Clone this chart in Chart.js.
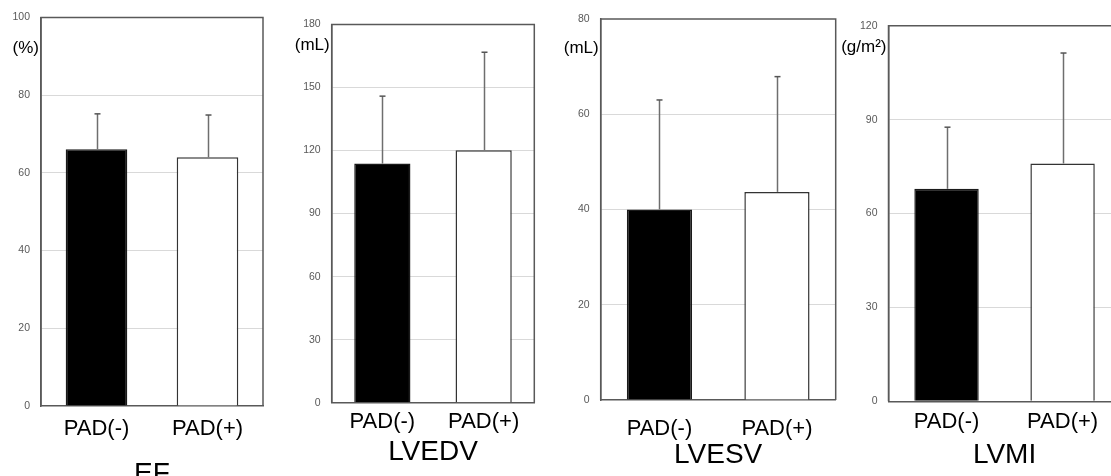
<!DOCTYPE html>
<html>
<head>
<meta charset="utf-8">
<script src="https://cdn.jsdelivr.net/npm/chart.js@4/dist/chart.umd.min.js"></script>
<style>
  html, body { margin: 0; padding: 0; background: #fff; width: 1111px; height: 476px; overflow: hidden; position: relative; }
  .panel { position: absolute; top: 0; }
</style>
</head>
<body>
<div class="panel" id="p0"><canvas id="c0"></canvas></div>
<div class="panel" id="p1"><canvas id="c1"></canvas></div>
<div class="panel" id="p2"><canvas id="c2"></canvas></div>
<div class="panel" id="p3"><canvas id="c3"></canvas></div>
<script>
// ---------- data ----------
const categories = ['PAD(-)', 'PAD(+)'];
const panelTitles = ['EF', 'LVEDV', 'LVESV', 'LVMI'];
const unitLabels = ['(%)', '(mL)', '(mL)', '(g/m²)'];
const efMean = [66.1, 64.0];
const efSD = [9.1, 10.9];
const lvedvMean = [113.8, 120.2];
const lvedvSD = [32.1, 46.6];
const lvesvMean = [40.0, 43.7];
const lvesvSD = [23.0, 24.2];
const lvmiMean = [67.9, 76.0];
const lvmiSD = [19.7, 35.3];
const axisMax = [100, 180, 80, 120];
const axisStep = [20, 30, 20, 30];

const means = [efMean, lvedvMean, lvesvMean, lvmiMean];
const sds = [efSD, lvedvSD, lvesvSD, lvmiSD];

// ---------- layout (pixels) ----------
const canvasLeft = [0, 272, 550, 838];
const canvasWidth = [272, 283, 290, 300];
const plotLeft = [41, 331.7, 600.7, 888.5];
const plotRight = [263, 534.3, 835.7, 1120.6];
const plotTop = [17.5, 24.5, 19, 25.8];
const plotBottom = [406, 402.7, 400, 401.3];
const xTickPad = [9.8, 6.1, 15.8, 7.5];
const xAxisHeight = [85.3, 66.1, 71.8, 70.5];
const unitY = [48, 45, 48, 47];
const CANVAS_H = 500;

const FONT = "'Liberation Sans', Arial, sans-serif";

const errorBarPlugin = {
  id: 'errorBars',
  afterDatasetsDraw(chart) {
    const ctx = chart.ctx;
    const yScale = chart.scales.y;
    chart.data.datasets.forEach((ds, di) => {
      const meta = chart.getDatasetMeta(di);
      meta.data.forEach((bar, i) => {
        const topVal = ds.data[i] + ds.sd[i];
        const yTop = yScale.getPixelForValue(topVal);
        const x = Math.round(bar.x) + 0.5;
        ctx.save();
        ctx.strokeStyle = '#6e6e6e';
        ctx.lineWidth = 1.5;
        ctx.beginPath();
        ctx.moveTo(x, bar.y);
        ctx.lineTo(x, yTop);
        ctx.stroke();
        ctx.strokeStyle = '#555';
        ctx.beginPath();
        ctx.moveTo(x - 3, yTop);
        ctx.lineTo(x + 3, yTop);
        ctx.stroke();
        ctx.restore();
      });
    });
  }
};

const framePlugin = {
  id: 'frame',
  afterDraw(chart, args, opts) {
    const {left, right, top, bottom} = chart.chartArea;
    const ctx = chart.ctx;
    ctx.save();
    ctx.strokeStyle = '#595959';
    ctx.lineWidth = 1.5;
    ctx.beginPath();
    ctx.moveTo(left, bottom);
    ctx.lineTo(left, top);
    ctx.lineTo(right, top);
    ctx.lineTo(right, bottom);
    ctx.stroke();
    // unit label
    ctx.fillStyle = '#000';
    ctx.font = '17px ' + FONT;
    ctx.textAlign = 'right';
    ctx.textBaseline = 'middle';
    ctx.fillText(opts.unit, left - 2, opts.unitY);
    ctx.restore();
  }
};

for (let k = 0; k < 4; k++) {
  const div = document.getElementById('p' + k);
  div.style.left = canvasLeft[k] + 'px';
  div.style.width = canvasWidth[k] + 'px';
  div.style.height = CANVAS_H + 'px';
  const cv = document.getElementById('c' + k);
  cv.width = canvasWidth[k];
  cv.height = CANVAS_H;
  cv.style.width = canvasWidth[k] + 'px';
  cv.style.height = CANVAS_H + 'px';

  const yW = plotLeft[k] - canvasLeft[k];
  const xH = xAxisHeight[k];

  new Chart(cv, {
    type: 'bar',
    data: {
      labels: categories,
      datasets: [{
        data: means[k],
        sd: sds[k],
        backgroundColor: ['#000000', '#ffffff'],
        borderColor: ['#1a1a1a', '#333333'],
        borderWidth: 1.5,
        barPercentage: 0.555,
        categoryPercentage: 1.0
      }]
    },
    options: {
      responsive: false,
      animation: false,
      devicePixelRatio: 1,
      layout: {
        padding: {
          left: 0,
          top: plotTop[k],
          right: canvasLeft[k] + canvasWidth[k] - plotRight[k],
          bottom: CANVAS_H - plotBottom[k] - xH
        }
      },
      plugins: {
        legend: { display: false },
        tooltip: { enabled: false },
        title: { display: false },
        frame: { unit: unitLabels[k], unitY: unitY[k] }
      },
      scales: {
        x: {
          grid: { display: false, drawTicks: false },
          border: { display: true, color: '#595959', width: 1.5 },
          ticks: {
            color: '#000',
            padding: xTickPad[k],
            font: { family: FONT, size: 22, lineHeight: 1.2 },
            maxRotation: 0, autoSkip: false
          },
          title: {
            display: true,
            text: panelTitles[k],
            color: '#000',
            font: { family: FONT, size: 28, lineHeight: 1.2 },
            padding: { top: 0, bottom: 0 }
          },
          afterFit(scale) { scale.height = xH; }
        },
        y: {
          min: 0,
          max: axisMax[k],
          grid: {
            drawTicks: false,
            color: (c) => (c.tick && (c.tick.value === 0 || c.tick.value === axisMax[k])) ? 'rgba(0,0,0,0)' : '#d9d9d9',
            lineWidth: 1
          },
          border: { display: true, color: '#595959', width: 1.5 },
          ticks: {
            stepSize: axisStep[k],
            color: '#595959',
            padding: 11,
            font: { family: FONT, size: 10.5 }
          },
          afterFit(scale) { scale.width = yW; }
        }
      }
    },
    plugins: [errorBarPlugin, framePlugin]
  });
}
</script>
</body>
</html>
